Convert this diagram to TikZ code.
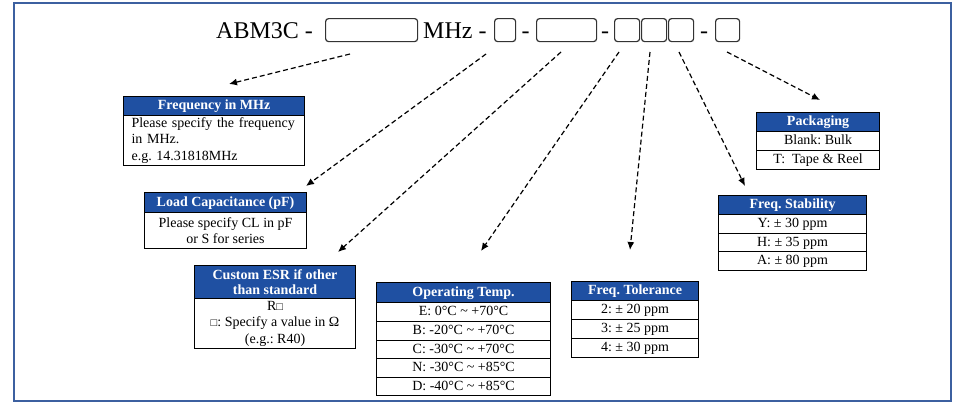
\documentclass[tikz,border=0pt]{standalone}
\usepackage{fontspec}
\setmainfont{Liberation Serif}
\usetikzlibrary{arrows.meta}
\definecolor{hdrblue}{RGB}{31,80,162}
\definecolor{frameblue}{RGB}{60,96,160}
\newcommand\wsq{{\fontsize{11}{11}\selectfont □}}
\frenchspacing
\begin{document}
\begin{tikzpicture}[x=1pt,y=-1pt,
  hdr/.style={draw=black, line width=1.1pt, fill=hdrblue, text=white,
    font=\fontsize{14}{15}\selectfont\bfseries\frenchspacing, inner sep=0pt, anchor=north west,
    text height=10pt, text depth=3pt},
  hdrm/.style={draw=black, line width=1.1pt, fill=hdrblue, text=white,
    font=\fontsize{14}{15}\selectfont\bfseries\frenchspacing, inner sep=0pt, anchor=north west, align=center},
  cell/.style={draw=black, line width=1.1pt, fill=white,
    font=\fontsize{14}{16.5}\selectfont\frenchspacing, inner sep=0pt, anchor=north west,
    text height=10pt, text depth=3pt},
  cellm/.style={draw=black, line width=1.1pt, fill=white,
    font=\fontsize{14}{16.5}\selectfont\frenchspacing, inner sep=0pt, anchor=north west, align=center},
  tbox/.style={draw=black!80, line width=1.2pt, rounded corners=3pt, inner sep=0pt, anchor=north west},
  ttext/.style={font=\fontsize{24}{24}\selectfont, inner sep=0pt, anchor=base west},
  tdash/.style={font=\fontsize{24}{24}\selectfont, inner sep=0pt, anchor=base},
  lead/.style={draw=black, line width=1.2pt, dash pattern=on 5pt off 3pt, -{Latex[length=8pt,width=7pt]}}]
\useasboundingbox (0,0) rectangle (966,407);
\fill[white] (0,0) rectangle (966,407);
\draw[frameblue, line width=2pt] (14,3) rectangle (951,401);

% title line
\node[ttext] (abm) at (216,38) {ABM3C -};
\node[tbox, minimum width=92pt, minimum height=23pt] (b1) at (325,18) {};
\node[ttext] (mhz) at (423,38) {MHz -};
\node[tbox, minimum width=21pt, minimum height=23pt] (b2) at (494,18) {};
\node[tdash] (d2) at (525.5,38) {-};
\node[tbox, minimum width=60pt, minimum height=23pt] (b3) at (536,18) {};
\node[tdash] (d3) at (605,38) {-};
\node[tbox, minimum width=25pt, minimum height=23pt] (b4) at (614,18) {};
\node[tbox, minimum width=25pt, minimum height=23pt] (b5) at (641,18) {};
\node[tbox, minimum width=25pt, minimum height=23pt] (b6) at (668,18) {};
\node[tdash] (d4) at (704,38) {-};
\node[tbox, minimum width=24pt, minimum height=23pt] (b7) at (715,18) {};

% Frequency in MHz
\node[hdr, minimum width=181pt, minimum height=19pt] (f1h) at (123,96) {Frequency in MHz};
\node[cellm, minimum width=181pt, minimum height=50pt, text width=165pt, inner xsep=8pt, align=left] (f1b) at (123,115)
  {Please specify the frequency\\in MHz.\\e.g. 14.31818MHz};

% Load capacitance
\node[hdr, minimum width=162pt, minimum height=20pt] (f2h) at (144,192) {Load Capacitance (pF)};
\node[cellm, minimum width=162pt, minimum height=36pt] (f2b) at (144,212)
  {Please specify CL in pF\\or S for series};

% Custom ESR
\node[hdrm, minimum width=161pt, minimum height=33pt] (f3h) at (194,265) {Custom ESR if other\\than standard};
\node[cellm, minimum width=161pt, minimum height=50pt] (f3b) at (194,298)
  {R\wsq\\\wsq: Specify a value in Ω\\(e.g.: R40)};

% Operating temp
\node[hdr, minimum width=174pt, minimum height=20pt] (f4h) at (376,282) {Operating Temp.};
\node[cell, minimum width=174pt, minimum height=19pt] (f4r1) at (376,302) {E: 0°C \textasciitilde{} +70°C};
\node[cell, minimum width=174pt, minimum height=19pt] (f4r2) at (376,321) {B: -20°C \textasciitilde{} +70°C};
\node[cell, minimum width=174pt, minimum height=18pt] (f4r3) at (376,340) {C: -30°C \textasciitilde{} +70°C};
\node[cell, minimum width=174pt, minimum height=19pt] (f4r4) at (376,358) {N: -30°C \textasciitilde{} +85°C};
\node[cell, minimum width=174pt, minimum height=18pt] (f4r5) at (376,377) {D: -40°C \textasciitilde{} +85°C};

% Freq tolerance
\node[hdr, minimum width=127pt, minimum height=19pt] (f5h) at (571,281) {Freq. Tolerance};
\node[cell, minimum width=127pt, minimum height=19pt] (f5r1) at (571,300) {2: ± 20 ppm};
\node[cell, minimum width=127pt, minimum height=19pt] (f5r2) at (571,319) {3: ± 25 ppm};
\node[cell, minimum width=127pt, minimum height=19pt] (f5r3) at (571,338) {4: ± 30 ppm};

% Freq stability
\node[hdr, minimum width=148pt, minimum height=19pt] (f6h) at (718,195) {Freq. Stability};
\node[cell, minimum width=148pt, minimum height=19pt] (f6r1) at (718,214) {Y: ± 30 ppm};
\node[cell, minimum width=148pt, minimum height=18pt] (f6r2) at (718,233) {H: ± 35 ppm};
\node[cell, minimum width=148pt, minimum height=19pt] (f6r3) at (718,251) {A: ± 80 ppm};

% Packaging
\node[hdr, minimum width=123pt, minimum height=19pt] (f7h) at (756,112) {Packaging};
\node[cell, minimum width=123pt, minimum height=19pt] (f7r1) at (756,131) {Blank: Bulk};
\node[cell, minimum width=123pt, minimum height=19pt] (f7r2) at (756,150) {T:\ \ Tape \& Reel};

% leaders
\coordinate (a1s) at (350,54);  \coordinate (a1e) at (229,84);
\coordinate (a2s) at (486,54);  \coordinate (a2e) at (306,186);
\coordinate (a3s) at (561,52);  \coordinate (a3e) at (338,252);
\coordinate (a4s) at (619,52);  \coordinate (a4e) at (481,251);
\coordinate (a5s) at (650,52);  \coordinate (a5e) at (630,250);
\coordinate (a6s) at (679,52);  \coordinate (a6e) at (745,186);
\coordinate (a7s) at (727,52);  \coordinate (a7e) at (820,100);
\draw[lead] (a1s) -- (a1e);
\draw[lead] (a2s) -- (a2e);
\draw[lead] (a3s) -- (a3e);
\draw[lead] (a4s) -- (a4e);
\draw[lead] (a5s) -- (a5e);
\draw[lead] (a6s) -- (a6e);
\draw[lead] (a7s) -- (a7e);
\end{tikzpicture}
\end{document}
